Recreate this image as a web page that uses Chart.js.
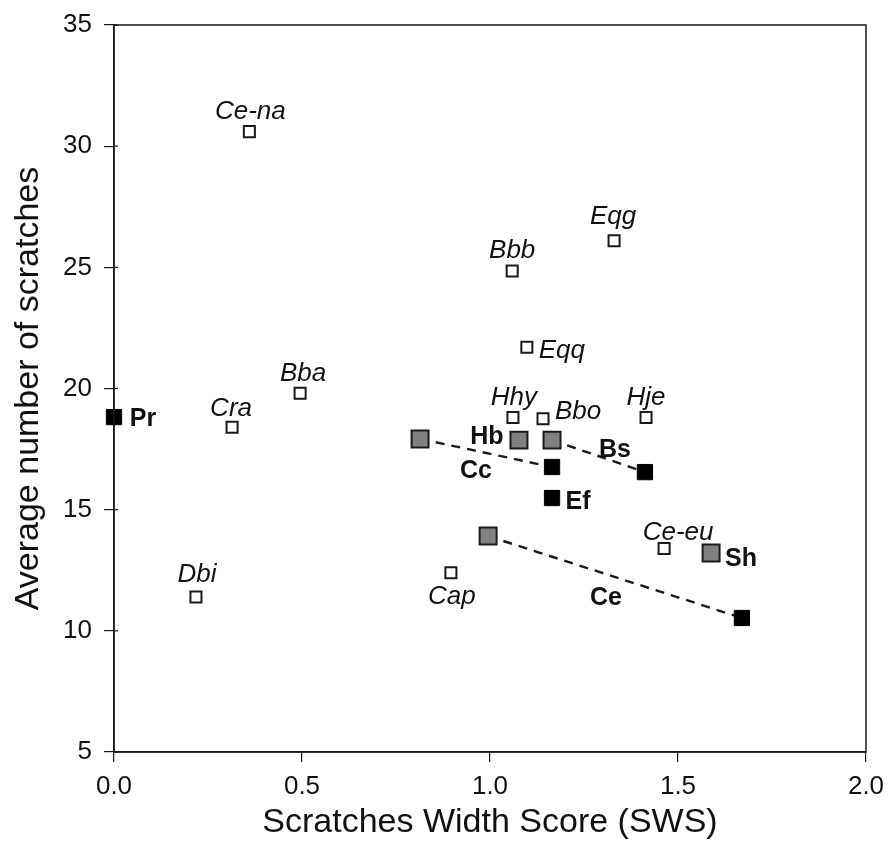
<!DOCTYPE html>
<html>
<head>
<meta charset="utf-8">
<script src="https://cdn.jsdelivr.net/npm/chart.js@4"></script>
<style>
html,body{margin:0;padding:0;background:#fff;}
#wrap{width:891px;height:847px;position:relative;}
</style>
</head>
<body>
<div id="wrap"><canvas id="c" width="891" height="847"></canvas></div>
<script>
// ---- data ----
const xTicks = [0, 0.5, 1.0, 1.5, 2.0];
const yTicks = [5, 10, 15, 20, 25, 30, 35];

// open squares (italic labels)
const openNames = ["Ce-na","Bba","Cra","Dbi","Cap","Bbb","Eqg","Eqq","Hhy","Bbo","Hje","Ce-eu"];
const openX     = [0.36, 0.495, 0.314, 0.218, 0.896, 1.059, 1.33, 1.098, 1.061, 1.141, 1.415, 1.463];
const openY     = [30.6, 19.8, 18.4, 11.4, 12.4, 24.85, 26.1, 21.7, 18.8, 18.75, 18.8, 13.4];

// grey squares (bold labels)
const greyNames = ["", "Hb", "", "", "Sh"];
const greyX     = [0.814, 1.077, 1.165, 0.995, 1.588];
const greyY     = [17.92, 17.87, 17.87, 13.91, 13.21];

// black squares (bold labels)
const blackNames = ["Pr", "Cc", "Ef", "Bs", "Ce"];
const blackX     = [0, 1.165, 1.165, 1.412, 1.67];
const blackY     = [18.82, 16.76, 15.48, 16.55, 10.53];

// dashed links: [grey index, black index]
const links = [[0, 1], [2, 3], [3, 4]];

// ---- label placement (pixel offsets from the point to the label's cap centre) ----
const openLabelOffsets  = [[1,-22],[3,-22],[-1,-21],[1,-24],[1,22],[0,-22],[-1,-26],[35,1.5],[1,-21.5],[35,-9],[0,-22],[14,-18]];
const greyLabelOffsets  = [[0,0],[-32,-5.5],[0,0],[0,0],[30,4.5]];
const blackLabelOffsets = [[29,0],[-76,2.5],[26,2],[-30,-24.5],[-136,-22]];

const FONT = "'Liberation Sans', Arial, Helvetica, sans-serif";
const INK = '#1a1a1a';

const toPts = (xs, ys) => xs.map((x, i) => ({x: x, y: ys[i]}));

const datasets = [];
links.forEach(([g, b]) => {
  datasets.push({
    type: 'line',
    data: [{x: greyX[g], y: greyY[g]}, {x: blackX[b], y: blackY[b]}],
    borderColor: INK, borderWidth: 2.4, borderDash: [9, 7],
    pointRadius: 0, fill: false, order: 10, clip: false
  });
});
datasets.push({
  type: 'scatter', data: toPts(openX, openY),
  pointStyle: 'rect', pointRadius: 7.8, pointHoverRadius: 7.8,
  backgroundColor: '#fff', borderColor: INK, borderWidth: 2, order: 1, clip: false
});
datasets.push({
  type: 'scatter', data: toPts(greyX, greyY),
  pointStyle: 'rect', pointRadius: 12, pointHoverRadius: 12,
  backgroundColor: '#808080', borderColor: INK, borderWidth: 2, order: 1, clip: false
});
datasets.push({
  type: 'scatter', data: toPts(blackX, blackY),
  pointStyle: 'rect', pointRadius: 10.8, pointHoverRadius: 10.8,
  backgroundColor: '#000', borderColor: '#000', borderWidth: 1, order: 0, clip: false
});

const framePlugin = {
  id: 'frame',
  afterDraw(chart) {
    const {ctx, chartArea: a, scales} = chart;
    ctx.save();
    ctx.strokeStyle = INK;
    ctx.lineWidth = 1.5;
    ctx.strokeRect(a.left, a.top, a.right - a.left, a.bottom - a.top);
    // inward part of the y ticks
    ctx.lineWidth = 1.2;
    yTicks.forEach(v => {
      const y = scales.y.getPixelForValue(v);
      ctx.beginPath(); ctx.moveTo(a.left, y); ctx.lineTo(a.left + 4, y); ctx.stroke();
    });
    ctx.restore();
  }
};

const labelPlugin = {
  id: 'labels',
  afterDatasetsDraw(chart) {
    const {ctx, scales} = chart;
    const draw = (names, xs, ys, offs, style, size) => {
      ctx.font = style + ' ' + size + 'px ' + FONT;
      names.forEach((n, i) => {
        if (!n) return;
        const px = scales.x.getPixelForValue(xs[i]) + offs[i][0];
        const py = scales.y.getPixelForValue(ys[i]) + offs[i][1] + 0.358 * size;
        ctx.fillText(n, px, py);
      });
    };
    ctx.save();
    ctx.fillStyle = '#111';
    ctx.textAlign = 'center';
    ctx.textBaseline = 'alphabetic';
    draw(openNames, openX, openY, openLabelOffsets, 'italic', 26);
    draw(greyNames, greyX, greyY, greyLabelOffsets, 'bold', 25);
    draw(blackNames, blackX, blackY, blackLabelOffsets, 'bold', 25);
    ctx.restore();
  }
};

new Chart(document.getElementById('c'), {
  data: {datasets: datasets},
  options: {
    responsive: false,
    animation: false,
    events: [],
    layout: {padding: {top: 25, right: 25, left: 0, bottom: 0}},
    plugins: {legend: {display: false}, tooltip: {enabled: false}},
    scales: {
      x: {
        type: 'linear', min: 0, max: 2,
        afterFit(s) { s.height = 95; s.paddingLeft = 0; s.paddingRight = 0; },
        afterBuildTicks(s) { s.ticks = xTicks.map(v => ({value: v})); },
        ticks: {
          callback: v => Number(v).toFixed(1),
          font: {family: FONT, size: 26}, color: '#111', padding: 9, maxRotation: 0
        },
        grid: {drawOnChartArea: false, drawTicks: true, tickLength: 10, color: INK, lineWidth: 1.2},
        border: {display: true, color: INK, width: 1.5},
        title: {
          display: true, text: 'Scratches Width Score (SWS)',
          font: {family: FONT, size: 34}, color: '#111', padding: {top: 0, bottom: 4}
        }
      },
      y: {
        type: 'linear', min: 5, max: 35,
        afterFit(s) { s.width = 114; s.paddingTop = 0; s.paddingBottom = 0; },
        afterBuildTicks(s) { s.ticks = yTicks.map(v => ({value: v})); },
        ticks: {
          font: {family: FONT, size: 26}, color: '#111', padding: 12
        },
        grid: {drawOnChartArea: false, drawTicks: true, tickLength: 10, color: INK, lineWidth: 1.2},
        border: {display: true, color: INK, width: 1.5},
        title: {
          display: true, text: 'Average number of scratches',
          font: {family: FONT, size: 34}, color: '#111', padding: {top: 8, bottom: 0}
        }
      }
    }
  },
  plugins: [framePlugin, labelPlugin]
});
</script>
</body>
</html>
